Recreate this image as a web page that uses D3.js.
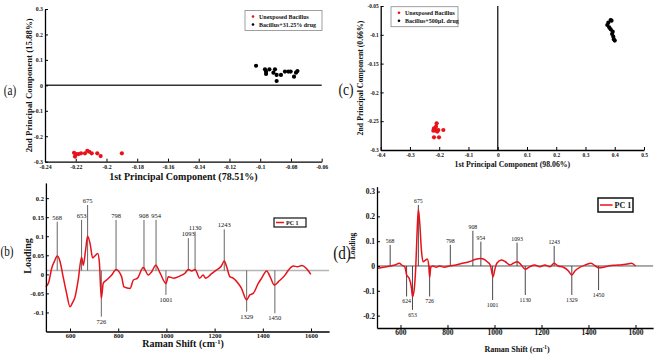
<!DOCTYPE html>
<html>
<head>
<meta charset="utf-8">
<script src="https://cdn.jsdelivr.net/npm/d3@7"></script>
<style>
  body { margin: 0; background: #fff; }
  svg text { font-family: "Liberation Serif", "Times New Roman", serif; fill: #111; }
</style>
</head>
<body>
<div id="chart"></div>
<script>
// ---- panel (a): PCA scores, unexposed vs 31.25% drug
var aUnexposedX = [-0.2211, -0.2205, -0.2198, -0.2183, -0.2166, -0.214, -0.2125, -0.2112, -0.2096, -0.206, -0.2038, -0.190];
var aUnexposedY = [-0.265, -0.280, -0.270, -0.270, -0.267, -0.267, -0.257, -0.261, -0.267, -0.267, -0.278, -0.267];
var aDrugX = [-0.1027, -0.0969, -0.0962, -0.0962, -0.094, -0.0914, -0.0904, -0.0893, -0.0893, -0.0865, -0.0839, -0.0817, -0.0802, -0.078, -0.0767, -0.0758];
var aDrugY = [0.077, 0.063, 0.054, 0.045, 0.063, 0.050, 0.063, 0.017, 0.041, 0.041, 0.054, 0.054, 0.054, 0.034, 0.050, 0.056];
var aXTicks = [-0.24, -0.22, -0.2, -0.18, -0.16, -0.14, -0.12, -0.1, -0.08, -0.06];
var aYTicks = [-0.3, -0.2, -0.1, 0, 0.1, 0.2, 0.3];

// ---- panel (c): PCA scores, unexposed vs 500uL drug
var cUnexposedX = [-0.2087, -0.2178, -0.211, -0.203, -0.220, -0.1859, -0.2178, -0.2007, -0.214, -0.2064, -0.211];
var cUnexposedY = [-0.2537, -0.2624, -0.2664, -0.2653, -0.2664, -0.2653, -0.278, -0.278, -0.264, -0.268, -0.2595];
var cDrugX = [0.386, 0.389, 0.378, 0.3745, 0.381, 0.386, 0.393, 0.391, 0.395, 0.397, 0.400];
var cDrugY = [-0.0743, -0.0755, -0.0789, -0.083, -0.087, -0.0905, -0.0946, -0.0986, -0.1032, -0.1079, -0.110];
var cXTicks = [-0.4, -0.3, -0.2, -0.1, 0, 0.1, 0.2, 0.3, 0.4, 0.5];
var cYTicks = [-0.3, -0.25, -0.2, -0.15, -0.1, -0.05];

// ---- panel (b): PC1 loading
var bShift = [500, 512, 524, 536, 547, 558, 572, 586, 600, 610, 621, 634, 648, 655, 664, 673, 683, 694, 703, 715, 722, 730, 738, 752, 773, 791, 814, 824, 849, 863, 880, 904, 925, 939, 956, 974, 998, 1008, 1029, 1057, 1077, 1091, 1105, 1119, 1138, 1152, 1163, 1186, 1207, 1228, 1240, 1250, 1263, 1277, 1298, 1311, 1333, 1346, 1360, 1381, 1395, 1416, 1430, 1448, 1465, 1492, 1506, 1527, 1543, 1562, 1580, 1599];
var bLoading = [-0.033, -0.02, 0.016, 0.035, 0.048, 0.035, -0.008, -0.05, -0.085, -0.075, -0.059, -0.015, 0.045, 0.024, 0.06, 0.10, 0.082, 0.043, 0.048, 0.055, 0.03, -0.063, -0.023, -0.015, -0.002, 0.013, -0.006, -0.033, -0.037, -0.015, -0.01, 0.018, -0.002, 0.007, 0.024, 0.003, -0.024, -0.006, -0.01, -0.004, 0.003, 0.013, 0.009, 0.013, -0.01, -0.002, -0.01, 0.001, 0.011, 0.022, 0.035, 0.02, -0.006, -0.01, -0.024, -0.036, -0.067, -0.054, -0.05, -0.024, -0.01, 0.009, -0.006, -0.028, -0.019, -0.002, 0.011, 0.022, 0.02, 0.023, 0.016, 0.0];
var bPeakLabels = ['568', '653', '675', '798', '908', '954', '1093', '1130', '1243', '726', '1001', '1329', '1450'];
var bPeakShift = [547, 648, 673, 791, 907, 957, 1091, 1119, 1240, 730, 998, 1333, 1450];
var bPeakTip = [0.138, 0.143, 0.182, 0.143, 0.143, 0.143, 0.095, 0.112, 0.118, -0.111, -0.054, -0.098, -0.102];
var bXTicks = [600, 800, 1000, 1200, 1400, 1600];
var bYTicks = [-0.1, -0.05, 0, 0.05, 0.1, 0.15, 0.2];

// ---- panel (d): PC1 loading
var dShift = [503, 528, 556, 577, 595, 605, 619, 626, 637, 647, 651, 658, 665, 671, 676, 682, 689, 696, 707, 714, 720, 724, 729, 738, 752, 766, 787, 808, 836, 864, 892, 920, 941, 955, 969, 982, 994, 1001, 1010, 1029, 1046, 1067, 1080, 1097, 1114, 1131, 1150, 1171, 1193, 1214, 1236, 1254, 1271, 1293, 1314, 1329, 1343, 1364, 1386, 1411, 1429, 1443, 1464, 1486, 1514, 1543, 1564, 1583, 1600];
var dLoading = [-0.009, -0.005, 0, 0.004, 0.011, 0.004, -0.005, -0.036, -0.05, -0.09, -0.123, -0.097, -0.003, 0.145, 0.228, 0.172, 0.064, 0.017, 0.024, 0.028, 0.004, -0.046, -0.005, 0, -0.005, 0, -0.005, 0, 0.004, 0.011, 0.017, 0.027, 0.03, 0.027, 0.017, 0.004, -0.043, -0.016, 0.011, 0.024, 0.017, 0.004, 0.011, 0.017, 0.004, -0.013, -0.003, 0.004, -0.003, 0.004, -0.003, 0.011, 0, -0.005, -0.019, -0.036, -0.019, -0.005, 0.004, 0.011, 0, -0.007, -0.005, 0, 0.003, 0.005, 0.008, 0.011, 0];
var dPeakLabels = ['568', '675', '798', '908', '954', '1093', '1243', '624', '653', '726', '1001', '1130', '1329', '1450'];
var dPeakShift = [556, 676, 812, 908, 942, 1096, 1254, 626, 651, 724, 992, 1131, 1329, 1443];
var dPeakTip = [0.085, 0.246, 0.085, 0.142, 0.098, 0.094, 0.081, -0.123, -0.177, -0.123, -0.137, -0.117, -0.117, -0.097];
var dXTicks = [600, 800, 1000, 1200, 1400, 1600];
var dYTicks = [-0.2, -0.1, 0, 0.1, 0.2, 0.3];

var RED = '#e8121a';

function fmt(v) { return String(+v.toFixed(3)); }

var svg = d3.select('#chart').append('svg')
  .attr('width', 655)
  .attr('height', 356);

function styleAxis(g, size) {
  g.select('.domain').attr('stroke', '#000').attr('stroke-width', 1.3);
  g.selectAll('.tick line').attr('stroke', '#000');
  g.selectAll('.tick text').attr('font-size', size).attr('fill', '#111')
    .attr('font-family', '"Liberation Serif", serif').style('font-weight', 'bold');
}

// ---------- scatter panels ----------
function scatterPanel(o) {
  var x = d3.scaleLinear().domain(o.xDomain).range(o.xRange);
  var y = d3.scaleLinear().domain(o.yDomain).range(o.yRange);
  var g = svg.append('g');

  if (o.zero === 'h') {
    g.append('line').attr('x1', x.range()[0]).attr('x2', x.range()[1])
      .attr('y1', y(0)).attr('y2', y(0)).attr('stroke', '#333').attr('stroke-width', 1.5);
  } else {
    g.append('line').attr('x1', x(0)).attr('x2', x(0))
      .attr('y1', y.range()[0]).attr('y2', y.range()[1]).attr('stroke', '#333').attr('stroke-width', 1.5);
  }

  g.append('g').attr('transform', 'translate(0,' + y.range()[0] + ')')
    .call(d3.axisBottom(x).tickValues(o.xTicks).tickFormat(fmt).tickSizeInner(-3).tickSizeOuter(0).tickPadding(3))
    .call(styleAxis, o.tickSize);
  g.append('g').attr('transform', 'translate(' + x.range()[0] + ',0)')
    .call(d3.axisLeft(y).tickValues(o.yTicks).tickFormat(fmt).tickSizeInner(-3).tickSizeOuter(0).tickPadding(2))
    .call(styleAxis, o.tickSize);

  g.selectAll('circle.u').data(d3.zip(o.ux, o.uy)).enter().append('circle')
    .attr('cx', d => x(d[0])).attr('cy', d => y(d[1])).attr('r', 2.1).attr('fill', RED);
  g.selectAll('circle.d').data(d3.zip(o.dx, o.dy)).enter().append('circle')
    .attr('cx', d => x(d[0])).attr('cy', d => y(d[1])).attr('r', 2.1).attr('fill', '#000');

  g.append('text').attr('x', (x.range()[0] + x.range()[1]) / 2).attr('y', o.xLabelY)
    .attr('text-anchor', 'middle').attr('font-size', o.xLabelSize).style('font-weight', 'bold').text(o.xLabel);
  g.append('text').attr('transform', 'translate(' + o.yLabelX + ',' + ((y.range()[0] + y.range()[1]) / 2) + ') rotate(-90)')
    .attr('text-anchor', 'middle').attr('font-size', o.yLabelSize).style('font-weight', 'bold').text(o.yLabel);

  var lg = g.append('g').attr('transform', 'translate(' + o.legend[0] + ',' + o.legend[1] + ')');
  lg.append('rect').attr('width', o.legend[2]).attr('height', 20)
    .attr('fill', '#fff').attr('stroke', '#888').attr('stroke-width', 0.8);
  [[o.names[0], RED], [o.names[1], '#000']].forEach(function(item, i) {
    lg.append('circle').attr('cx', 8).attr('cy', 6 + i * 8).attr('r', 1.3).attr('fill', item[1]);
    lg.append('text').attr('x', 14).attr('y', 8.2 + i * 8).attr('font-size', 6).style('font-weight', 'bold').text(item[0]);
  });
}

scatterPanel({
  xDomain: [-0.24, -0.06], xRange: [45, 321.7],
  yDomain: [-0.3, 0.3], yRange: [161.7, 9],
  xTicks: aXTicks, yTicks: aYTicks, tickSize: 5.8, zero: 'h',
  ux: aUnexposedX, uy: aUnexposedY, dx: aDrugX, dy: aDrugY,
  xLabel: '1st Principal Component (78.51%)', xLabelY: 180, xLabelSize: 10,
  yLabel: '2nd Principal Component (15.88%)', yLabelX: 32, yLabelSize: 8.8,
  legend: [245, 10.5, 77], names: ['Unexposed Bacillus', 'Bacillus+31.25% drug']
});

scatterPanel({
  xDomain: [-0.4, 0.5], xRange: [380.7, 644],
  yDomain: [-0.3, -0.05], yRange: [150, 6],
  xTicks: cXTicks, yTicks: cYTicks, tickSize: 5.4, zero: 'v',
  ux: cUnexposedX, uy: cUnexposedY, dx: cDrugX, dy: cDrugY,
  xLabel: '1st Principal Component (98.06%)', xLabelY: 167, xLabelSize: 7.8,
  yLabel: '2nd Principal Component (0.66%)', yLabelX: 363, yLabelSize: 7.8,
  legend: [391, 6.7, 67], names: ['Unexposed Bacillus', 'Bacillus+500µL drug']
});

// ---------- loading panels ----------
function loadingPanel(o) {
  var x = d3.scaleLinear().domain([500, 1675]).range(o.xRange);
  var y = d3.scaleLinear().domain(o.yDomain).range(o.yRange);
  var g = svg.append('g');

  g.append('line').attr('x1', x.range()[0]).attr('x2', x.range()[1])
    .attr('y1', y(o.base)).attr('y2', y(o.base))
    .attr('stroke', o.baseColor).attr('stroke-width', o.baseWidth);

  o.peakLabels.forEach(function(lab, i) {
    var tip = o.peakTip[i], up = tip > 0;
    g.append('line').attr('x1', x(o.peakShift[i])).attr('x2', x(o.peakShift[i]))
      .attr('y1', y(o.base)).attr('y2', y(tip))
      .attr('stroke', o.peakColor).attr('stroke-width', 0.9);
    g.append('text').attr('x', x(o.peakShift[i])).attr('y', y(tip) + (up ? -2 : 7))
      .attr('text-anchor', 'middle').attr('font-size', o.peakSize)
      .text(lab);
  });

  var line = d3.line().x((d, i) => x(o.shift[i])).y(d => y(d)).curve(d3.curveMonotoneX);
  g.append('path').datum(o.loading).attr('d', line)
    .attr('fill', 'none').attr('stroke', RED).attr('stroke-width', 1.5);

  g.append('g').attr('transform', 'translate(0,' + y.range()[0] + ')')
    .call(d3.axisBottom(x).tickValues(o.xTicks).tickFormat(fmt).tickSizeInner(-3).tickSizeOuter(0).tickPadding(2))
    .call(styleAxis, o.tickSize);
  g.append('g').attr('transform', 'translate(' + x.range()[0] + ',0)')
    .call(d3.axisLeft(y).tickValues(o.yTicks).tickFormat(fmt).tickSizeInner(-3).tickSizeOuter(0).tickPadding(2))
    .call(styleAxis, o.tickSize);

  var xl = g.append('text').attr('x', o.xLabelX).attr('y', o.xLabelY)
    .attr('text-anchor', 'middle').attr('font-size', o.xLabelSize).style('font-weight', 'bold');
  xl.append('tspan').text('Raman Shift (cm');
  xl.append('tspan').attr('dy', -3).attr('font-size', o.xLabelSize * 0.65).text('-1');
  xl.append('tspan').attr('dy', 3).text(')');
  g.append('text').attr('transform', 'translate(' + o.yLabelX + ',' + o.yLabelY + ') rotate(-90)')
    .attr('text-anchor', 'middle').attr('font-size', o.yLabelSize).style('font-weight', 'bold').text('Loading');

  var lg = g.append('g').attr('transform', 'translate(' + o.legend[0] + ',' + o.legend[1] + ')');
  lg.append('rect').attr('width', o.legend[2]).attr('height', o.legend[3])
    .attr('fill', '#fff').attr('stroke', '#111').attr('stroke-width', o.legendStroke);
  lg.append('line').attr('x1', 2).attr('x2', 2 + o.legend[3] * 0.9)
    .attr('y1', o.legend[3] / 2).attr('y2', o.legend[3] / 2).attr('stroke', RED).attr('stroke-width', 1.5);
  lg.append('text').attr('x', 4 + o.legend[3] * 0.9).attr('y', o.legend[3] / 2 + o.legendFont * 0.35)
    .attr('font-size', o.legendFont).style('font-weight', 'bold').text('PC 1');
}

loadingPanel({
  xRange: [45.9, 329.1], yDomain: [-0.15, 0.24], yRange: [331.5, 182.9],
  shift: bShift, loading: bLoading, base: 0.01, baseColor: '#b5b5b5', baseWidth: 1.6,
  peakLabels: bPeakLabels, peakShift: bPeakShift, peakTip: bPeakTip, peakColor: '#555', peakSize: 6.5,
  xTicks: bXTicks, yTicks: bYTicks, tickSize: 6.5,
  xLabelX: 183, xLabelY: 347, xLabelSize: 10,
  yLabelX: 31, yLabelY: 256, yLabelSize: 10,
  legend: [274, 218, 32, 9], legendStroke: 1.2, legendFont: 6
});

loadingPanel({
  xRange: [377, 653.1], yDomain: [-0.25, 0.32], yRange: [328, 186.6],
  shift: dShift, loading: dLoading, base: 0, baseColor: '#555', baseWidth: 1,
  peakLabels: dPeakLabels, peakShift: dPeakShift, peakTip: dPeakTip, peakColor: '#333', peakSize: 5.8,
  xTicks: dXTicks, yTicks: dYTicks, tickSize: 7.5,
  xLabelX: 517, xLabelY: 352, xLabelSize: 8,
  yLabelX: 355, yLabelY: 246, yLabelSize: 7.5,
  legend: [598, 198, 35, 14], legendStroke: 1.5, legendFont: 8
});

// ---------- panel letters ----------
[['(a)', 10, 95, 14, 'serif'], ['(b)', 7, 256, 14, 'serif'],
 ['(c)', 346, 95, 17, 'sans'], ['(d)', 342, 259, 19, 'sans']].forEach(function(p) {
  svg.append('text').attr('x', p[1]).attr('y', p[2]).attr('text-anchor', 'middle')
    .attr('font-size', p[3])
    .attr('font-family', p[4] === 'sans' ? '"Liberation Sans", sans-serif' : '"Liberation Serif", serif')
    .attr('transform', 'translate(' + p[1] + ',0) scale(0.8,1) translate(' + (-p[1]) + ',0)')
    .text(p[0]);
});
</script>
</body>
</html>
